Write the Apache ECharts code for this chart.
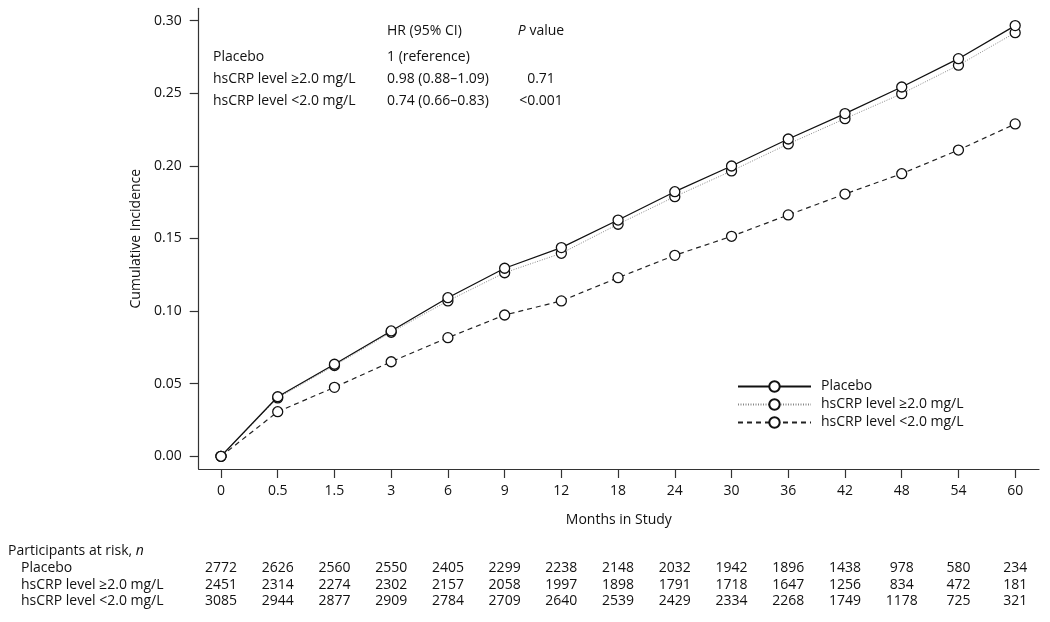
<!DOCTYPE html>
<html><head><meta charset="utf-8">
<script src="https://cdn.jsdelivr.net/npm/echarts@6/dist/echarts.min.js"></script>
<style>html,body{margin:0;padding:0;background:#fff;} #c{width:1050px;height:622px;}</style>
</head><body><div id="c"></div>
<script>
// ---- data ----
const months = ['0','0.5','1.5','3','6','9','12','18','24','30','36','42','48','54','60'];
const seriesNames = ['Placebo','hsCRP level \u22652.0 mg/L','hsCRP level <2.0 mg/L'];
const placebo = [0,0.0410,0.0634,0.0863,0.1092,0.1295,0.1437,0.1627,0.1822,0.1999,0.2185,0.2360,0.2543,0.2738,0.2966];
const highCRP = [0,0.0402,0.0625,0.0854,0.1070,0.1264,0.1398,0.1598,0.1788,0.1965,0.2151,0.2325,0.2497,0.2693,0.2917];
const lowCRP  = [0,0.0307,0.0475,0.0651,0.0817,0.0973,0.1070,0.1230,0.1384,0.1515,0.1662,0.1806,0.1946,0.2109,0.2289];
const yTicks = [0,0.05,0.10,0.15,0.20,0.25,0.30];
const riskPlacebo = [2772,2626,2560,2550,2405,2299,2238,2148,2032,1942,1896,1438,978,580,234];
const riskHigh    = [2451,2314,2274,2302,2157,2058,1997,1898,1791,1718,1647,1256,834,472,181];
const riskLow     = [3085,2944,2877,2909,2784,2709,2640,2539,2429,2334,2268,1749,1178,725,321];
const hrRows   = ['Placebo','hsCRP level \u22652.0 mg/L','hsCRP level <2.0 mg/L'];
const hrValues = ['1 (reference)','0.98 (0.88\u20131.09)','0.74 (0.66\u20130.83)'];
const pValues  = ['','0.71','<0.001'];

const FONT = '"Open Sans", Lato, sans-serif';
const FS = 14;
const TXT = '#111';
const AX = '#333';

const chart = echarts.init(document.getElementById('c'), null, {renderer:'canvas'});
const sym = {symbol:'circle', symbolSize:10, showSymbol:true,
  itemStyle:{color:'#fff', borderColor:'#111', borderWidth:1.3}};
const toPairs = a => a.map((v,i)=>[i,v]);

chart.setOption({
  animation:false,
  backgroundColor:'#fff',
  textStyle:{fontFamily:FONT},
  grid:{left:198.7, right:11, top:8.3, bottom:153},
  xAxis:{type:'value', min:-0.393, max:14.42,
    name:'Months in Study', nameLocation:'middle', nameGap:44,
    nameTextStyle:{fontFamily:FONT, fontSize:FS, color:TXT},
    axisLine:{show:true, onZero:false, lineStyle:{color:AX, width:1.2}},
    axisTick:{show:true, length:9, lineStyle:{color:AX, width:1.2}, customValues:months.map((m,i)=>i)},
    axisLabel:{customValues:months.map((m,i)=>i), formatter:v=>months[Math.round(v)], margin:15,
      fontFamily:FONT, fontSize:FS, color:TXT},
    splitLine:{show:false}},
  yAxis:{type:'value', min:-0.00875, max:0.3085,
    name:'Cumulative Incidence', nameLocation:'middle', nameGap:53, nameRotate:90,
    nameTextStyle:{fontFamily:FONT, fontSize:FS, color:TXT},
    axisLine:{show:true, onZero:false, lineStyle:{color:AX, width:1.2}},
    axisTick:{show:true, length:9, lineStyle:{color:AX, width:1.2}, customValues:yTicks},
    axisLabel:{customValues:yTicks, formatter:v=>v.toFixed(2), margin:17,
      fontFamily:FONT, fontSize:FS, color:TXT},
    splitLine:{show:false}},
  legend:{orient:'vertical', left:732, top:373, itemWidth:73, itemHeight:13, itemGap:1,
    data:seriesNames,
    textStyle:{fontFamily:FONT, fontSize:FS, color:TXT, lineHeight:17, padding:[0,0,0,5]}},
  series:[
    Object.assign({name:seriesNames[1], type:'line', data:toPairs(highCRP), z:2,
      lineStyle:{color:'#888', width:1, type:[1,1.5]}}, sym),
    Object.assign({name:seriesNames[2], type:'line', data:toPairs(lowCRP), z:2,
      lineStyle:{color:'#222', width:1.2, type:[5,4]}}, sym),
    Object.assign({name:seriesNames[0], type:'line', data:toPairs(placebo), z:3,
      lineStyle:{color:'#111', width:1.3}}, sym)
  ]
});

// ---- text annotations (HR table and at-risk table) ----
const g = [];
const t = (x,y,text,align) => g.push({type:'text', x:x, y:y, silent:true,
  style:{text:text, fontFamily:FONT, fontSize:FS, fill:TXT, align:align||'left', verticalAlign:'middle'}});
const rt = (x,y,text,align) => g.push({type:'text', x:x, y:y, silent:true, style:{text:text, align:align||'left', verticalAlign:'middle',
  fontFamily:FONT, fontSize:FS, fill:TXT, rich:{i:{fontStyle:'italic', fontFamily:FONT, fontSize:FS, fill:TXT}}}});

t(387, 30.7, 'HR (95% CI)');
rt(541, 30.7, '{i|P} value', 'center');
const hrY = [56.7, 79, 101];
hrRows.forEach((r,k)=>{ t(213, hrY[k], r); t(387, hrY[k], hrValues[k]); if (pValues[k]) t(541, hrY[k], pValues[k], 'center'); });

rt(8, 551.5, 'Participants at risk, {i|n}');
const riskRows = [riskPlacebo, riskHigh, riskLow];
const riskY = [568, 584.8, 601.5];
riskRows.forEach((row,k)=>{
  t(21, riskY[k], seriesNames[k]);
  row.forEach((n,i)=>{
    const px = chart.convertToPixel({xAxisIndex:0}, i);
    t(px, riskY[k], String(n), 'center');
  });
});
chart.setOption({graphic:g});
</script></body></html>
